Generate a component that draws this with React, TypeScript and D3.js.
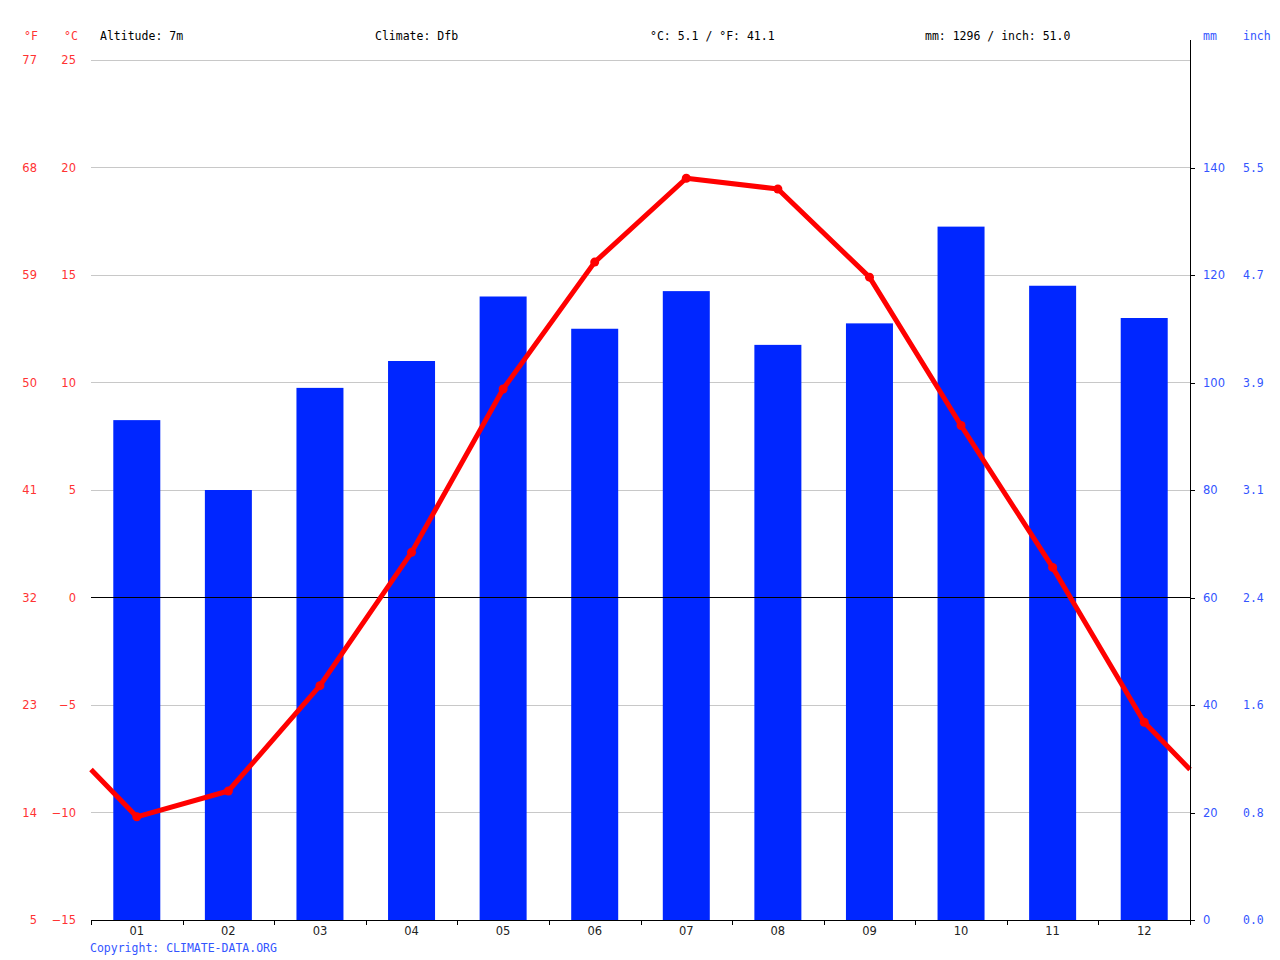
import * as d3 from "d3";
import { useEffect, useRef } from "react";

const months = ["01", "02", "03", "04", "05", "06", "07", "08", "09", "10", "11", "12"];
const precipMm = [93, 80, 99, 104, 116, 110, 117, 107, 111, 129, 118, 112];
const tempC = [-10.2, -9.0, -4.1, 2.1, 9.7, 15.6, 19.5, 19.0, 14.9, 8.0, 1.4, -5.8];
const celsiusTicks = [-15, -10, -5, 0, 5, 10, 15, 20, 25];
const fahrenheitTicks = ["5", "14", "23", "32", "41", "50", "59", "68", "77"];
const mmTicks = [0, 20, 40, 60, 80, 100, 120, 140];
const inchTicks = ["0.0", "0.8", "1.6", "2.4", "3.1", "3.9", "4.7", "5.5"];
const headerItems = [
  { text: "Altitude: 7m", x: 100 },
  { text: "Climate: Dfb", x: 375 },
  { text: "°C: 5.1 / °F: 41.1", x: 650 },
  { text: "mm: 1296 / inch: 51.0", x: 925 },
];

const W = 1280;
const H = 960;
const left = 91;
const right = 1190;
const top = 60;
const bottom = 920;
const RED = "#ff0000";
const BLUE = "#0026ff";
const TEXT_RED = "#ff3333";
const TEXT_BLUE = "#3355ff";
const mono = "'DejaVu Sans Mono', monospace";
const sans = "'DejaVu Sans', sans-serif";

export default function App() {
  const svgRef = useRef<SVGSVGElement | null>(null);

  useEffect(() => {
    const svg = d3.select(svgRef.current);
    svg.selectAll("*").remove();

    const x = d3.scaleBand().domain(months).range([left, right]).paddingInner(0).paddingOuter(0);
    const yT = d3.scaleLinear().domain([-15, 25]).range([bottom, top]);
    const yP = d3.scaleLinear().domain([0, 160]).range([bottom, top]);

    // grid
    svg
      .append("g")
      .selectAll("line")
      .data(celsiusTicks)
      .join("line")
      .attr("x1", left)
      .attr("x2", right)
      .attr("y1", (d) => yT(d))
      .attr("y2", (d) => yT(d))
      .attr("stroke", (d) => (d === 0 ? "#000" : "#c8c8c8"))
      .attr("stroke-width", 1)
      .attr("shape-rendering", "crispEdges");

    // bars
    const barW = 47;
    svg
      .append("g")
      .selectAll("rect")
      .data(precipMm)
      .join("rect")
      .attr("x", (_, i) => x(months[i])! + x.bandwidth() / 2 - barW / 2)
      .attr("width", barW)
      .attr("y", (d) => yP(d))
      .attr("height", (d) => bottom - yP(d))
      .attr("fill", BLUE);

    // zero line on top of bars
    svg
      .append("line")
      .attr("x1", left)
      .attr("x2", right)
      .attr("y1", yT(0))
      .attr("y2", yT(0))
      .attr("stroke", "#000")
      .attr("shape-rendering", "crispEdges");

    // temperature line, wrapping at the edges
    const edge = (tempC[0] + tempC[11]) / 2;
    const pts: [number, number][] = [
      [left, yT(edge)],
      ...tempC.map((t, i) => [x(months[i])! + x.bandwidth() / 2, yT(t)] as [number, number]),
      [right, yT(edge)],
    ];
    svg
      .append("path")
      .attr("d", d3.line()(pts))
      .attr("fill", "none")
      .attr("stroke", RED)
      .attr("stroke-width", 5)
      .attr("stroke-linejoin", "round");
    svg
      .append("g")
      .selectAll("circle")
      .data(tempC)
      .join("circle")
      .attr("cx", (_, i) => x(months[i])! + x.bandwidth() / 2)
      .attr("cy", (d) => yT(d))
      .attr("r", 4.5)
      .attr("fill", RED);

    // bottom axis
    const bx = svg.append("g");
    bx.append("line")
      .attr("x1", left)
      .attr("x2", right)
      .attr("y1", bottom + 0.5)
      .attr("y2", bottom + 0.5)
      .attr("stroke", "#000");
    bx.selectAll("line.tick")
      .data(d3.range(13))
      .join("line")
      .attr("class", "tick")
      .attr("x1", (i) => Math.round(left + i * x.step()) + 0.5)
      .attr("x2", (i) => Math.round(left + i * x.step()) + 0.5)
      .attr("y1", bottom)
      .attr("y2", bottom + 5)
      .attr("stroke", "#000");
    bx.selectAll("text")
      .data(months)
      .join("text")
      .attr("x", (d) => x(d)! + x.bandwidth() / 2)
      .attr("y", bottom + 15)
      .attr("text-anchor", "middle")
      .attr("font-family", sans)
      .attr("font-size", 11.5)
      .attr("fill", "#222")
      .text((d) => d);

    // left axis labels
    const lg = svg.append("g").attr("font-family", sans).attr("font-size", 11.5).attr("fill", TEXT_RED);
    lg.selectAll("text.c")
      .data(celsiusTicks)
      .join("text")
      .attr("class", "c")
      .attr("x", 76)
      .attr("y", (d) => yT(d) + 4)
      .attr("text-anchor", "end")
      .text((d) => (d < 0 ? "\u2212" + Math.abs(d) : String(d)));
    lg.selectAll("text.f")
      .data(fahrenheitTicks)
      .join("text")
      .attr("class", "f")
      .attr("x", 37)
      .attr("y", (_, i) => yT(celsiusTicks[i]) + 4)
      .attr("text-anchor", "end")
      .text((d) => d);
    svg.append("line")
      .attr("x1", left + 0.5)
      .attr("x2", left + 0.5)
      .attr("y1", bottom)
      .attr("y2", bottom + 5)
      .attr("stroke", "#000");

    // right axis
    const rg = svg.append("g");
    rg.append("line")
      .attr("x1", right + 0.5)
      .attr("x2", right + 0.5)
      .attr("y1", 40)
      .attr("y2", bottom + 5)
      .attr("stroke", "#000");
    rg.selectAll("line.t")
      .data(mmTicks)
      .join("line")
      .attr("class", "t")
      .attr("x1", right)
      .attr("x2", right + 5)
      .attr("y1", (d) => Math.round(yP(d)) + 0.5)
      .attr("y2", (d) => Math.round(yP(d)) + 0.5)
      .attr("stroke", "#000");
    rg.selectAll("text.mm")
      .data(mmTicks)
      .join("text")
      .attr("class", "mm")
      .attr("x", 1203)
      .attr("y", (d) => yP(d) + 4)
      .attr("font-family", sans)
      .attr("font-size", 11.5)
      .attr("fill", TEXT_BLUE)
      .text((d) => String(d));
    rg.selectAll("text.in")
      .data(inchTicks)
      .join("text")
      .attr("class", "in")
      .attr("x", 1243)
      .attr("y", (_, i) => yP(mmTicks[i]) + 4)
      .attr("font-family", mono)
      .attr("font-size", 11.5)
      .attr("fill", TEXT_BLUE)
      .text((d) => d);

    // header
    const hg = svg.append("g").attr("font-family", mono).attr("font-size", 11.5);
    hg.append("text").attr("x", 24).attr("y", 40).attr("fill", TEXT_RED).text("°F");
    hg.append("text").attr("x", 64).attr("y", 40).attr("fill", TEXT_RED).text("°C");
    hg.append("text").attr("x", 1203).attr("y", 40).attr("fill", TEXT_BLUE).text("mm");
    hg.append("text").attr("x", 1243).attr("y", 40).attr("fill", TEXT_BLUE).text("inch");
    hg.selectAll("text.h")
      .data(headerItems)
      .join("text")
      .attr("class", "h")
      .attr("x", (d) => d.x)
      .attr("y", 40)
      .attr("fill", "#000")
      .text((d) => d.text);

    svg.append("text")
      .attr("x", 90)
      .attr("y", 952)
      .attr("font-family", mono)
      .attr("font-size", 11.5)
      .attr("fill", TEXT_BLUE)
      .text("Copyright: CLIMATE-DATA.ORG");
  }, []);

  return (
    <svg
      ref={svgRef}
      width={W}
      height={H}
      style={{ position: "absolute", left: 0, top: 0, background: "#fff" }}
    ></svg>
  );
}
